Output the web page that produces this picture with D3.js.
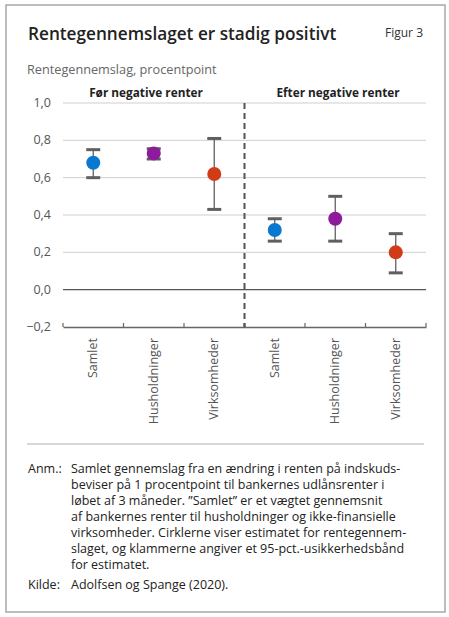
<!DOCTYPE html>
<html>
<head>
<meta charset="utf-8">
<script src="https://cdn.jsdelivr.net/npm/d3@7"></script>
<style>
  body { margin: 0; background: #fff; }
  text { font-family: "Open Sans", sans-serif; }
</style>
</head>
<body>
<svg id="chart" width="449" height="617"></svg>
<script>
// data
var categories = ["Samlet", "Husholdninger", "Virksomheder", "Samlet ", "Husholdninger ", "Virksomheder "];
var periods = ["Før negative renter", "Efter negative renter"];
var estimate = [0.68, 0.73, 0.62, 0.32, 0.38, 0.20];
var upper    = [0.75, 0.755, 0.81, 0.38, 0.50, 0.30];
var lower    = [0.60, 0.70, 0.43, 0.26, 0.26, 0.09];
var yTicks = [-0.2, 0, 0.2, 0.4, 0.6, 0.8, 1.0];
var pointColors = ["#0878d0", "#8e1a9c", "#d13b16", "#0878d0", "#8e1a9c", "#d13b16"];

var noteLines = [
  "Samlet gennemslag fra en ændring i renten på indskuds-",
  "beviser på 1 procentpoint til bankernes udlånsrenter i",
  "løbet af 3 måneder. ”Samlet” er et vægtet gennemsnit",
  "af bankernes renter til husholdninger og ikke-finansielle",
  "virksomheder. Cirklerne viser estimatet for rentegennem-",
  "slaget, og klammerne angiver et 95-pct.-usikkerhedsbånd",
  "for estimatet."
];

var svg = d3.select("#chart");

// frame
svg.append("rect")
  .attr("x", 6).attr("y", 5).attr("width", 439).attr("height", 607)
  .attr("fill", "none").attr("stroke", "#a8a8a8").attr("stroke-width", 1.5);

svg.append("text")
  .attr("x", 28).attr("y", 40)
  .attr("font-size", 17.2).attr("font-weight", 600).attr("fill", "#222")
  .text("Rentegennemslaget er stadig positivt");

svg.append("text")
  .attr("x", 423).attr("y", 37).attr("text-anchor", "end")
  .attr("font-size", 12).attr("fill", "#333")
  .text("Figur 3");

svg.append("text")
  .attr("x", 27).attr("y", 74)
  .attr("font-size", 12.7).attr("fill", "#666")
  .text("Rentegennemslag, procentpoint");

// scales
var x = d3.scaleBand().domain(categories).range([63, 426]);
var y = d3.scaleLinear().domain([-0.2, 1.0]).range([327, 103]);

var g = svg.append("g");

// gridlines
g.selectAll("line.grid")
  .data(yTicks.filter(function(d) { return d > -0.2; }))
  .enter().append("line")
  .attr("class", "grid")
  .attr("x1", 63).attr("x2", 426)
  .attr("y1", function(d) { return y(d); })
  .attr("y2", function(d) { return y(d); })
  .attr("stroke", function(d) { return d === 0 ? "#555" : "#cfcfcf"; })
  .attr("stroke-width", function(d) { return d === 0 ? 1.2 : 1; });

// y tick labels
g.selectAll("text.ytick")
  .data(yTicks)
  .enter().append("text")
  .attr("class", "ytick")
  .attr("x", 51)
  .attr("y", function(d) { return y(d) + 4; })
  .attr("text-anchor", "end")
  .attr("font-size", 12.5).attr("fill", "#555")
  .text(function(d) { return d3.format(".1f")(d).replace(".", ","); });

// bottom axis
var xAxis = d3.axisBottom(x).tickSize(0).tickFormat("");
var ax = g.append("g").attr("transform", "translate(0," + y(-0.2) + ")").call(xAxis);
ax.select(".domain").attr("stroke", "#666").attr("stroke-width", 1.5);

var bounds = [63].concat(categories.map(function(c) { return x(c) + x.bandwidth(); }));
g.selectAll("line.xtick")
  .data(bounds)
  .enter().append("line")
  .attr("x1", function(d) { return d; }).attr("x2", function(d) { return d; })
  .attr("y1", y(-0.2) - 4).attr("y2", y(-0.2))
  .attr("stroke", "#666").attr("stroke-width", function(d, i) { return i === 3 ? 2 : 1.2; });

// x labels
g.selectAll("text.xlab")
  .data(categories)
  .enter().append("text")
  .attr("class", "xlab")
  .attr("transform", function(d) {
    return "translate(" + (x(d) + x.bandwidth() / 2 + 4) + "," + (y(-0.2) + 11) + ") rotate(-90)";
  })
  .attr("text-anchor", "end")
  .attr("font-size", 12.5).attr("fill", "#555")
  .text(function(d) { return d.trim(); });

// dashed separator
var sepX = x(categories[3]);
g.append("line")
  .attr("x1", sepX).attr("x2", sepX)
  .attr("y1", y(1.0)).attr("y2", y(-0.2))
  .attr("stroke", "#555").attr("stroke-width", 2)
  .attr("stroke-dasharray", "6,4");

// period labels
g.selectAll("text.period")
  .data(periods)
  .enter().append("text")
  .attr("class", "period")
  .attr("x", function(d, i) { return i === 0 ? 146 : 338; })
  .attr("y", 97)
  .attr("text-anchor", "middle")
  .attr("font-size", 11.8).attr("font-weight", 700).attr("fill", "#222")
  .text(function(d) { return d; });

// error bars
var cx = function(i) { return x(categories[i]) + x.bandwidth() / 2; };
var idx = d3.range(categories.length);

g.selectAll("line.whisker")
  .data(idx).enter().append("line")
  .attr("x1", cx).attr("x2", cx)
  .attr("y1", function(i) { return y(upper[i]); })
  .attr("y2", function(i) { return y(lower[i]); })
  .attr("stroke", "#606060").attr("stroke-width", 1.3);

[upper, lower].forEach(function(arr) {
  g.selectAll(null)
    .data(idx).enter().append("line")
    .attr("x1", function(i) { return cx(i) - 7; })
    .attr("x2", function(i) { return cx(i) + 7; })
    .attr("y1", function(i) { return y(arr[i]); })
    .attr("y2", function(i) { return y(arr[i]); })
    .attr("stroke", "#606060").attr("stroke-width", 3);
});

g.selectAll("circle.pt")
  .data(idx).enter().append("circle")
  .attr("cx", cx)
  .attr("cy", function(i) { return y(estimate[i]); })
  .attr("r", 7)
  .attr("fill", function(i) { return pointColors[i]; });

// note separator
svg.append("line")
  .attr("x1", 27).attr("x2", 424).attr("y1", 444).attr("y2", 444)
  .attr("stroke", "#b0b0b0").attr("stroke-width", 1.2);

svg.append("text")
  .attr("x", 28).attr("y", 473)
  .attr("font-size", 12.5).attr("fill", "#222")
  .text("Anm.:");

svg.selectAll("text.note")
  .data(noteLines).enter().append("text")
  .attr("class", "note")
  .attr("x", 71)
  .attr("y", function(d, i) { return 473 + i * 16; })
  .attr("font-size", 12.5).attr("fill", "#222")
  .text(function(d) { return d; });

svg.append("text")
  .attr("x", 28).attr("y", 589)
  .attr("font-size", 12.5).attr("fill", "#222")
  .text("Kilde:");
svg.append("text")
  .attr("x", 71).attr("y", 589)
  .attr("font-size", 12.5).attr("fill", "#222")
  .text("Adolfsen og Spange (2020).");
</script>
</body>
</html>
